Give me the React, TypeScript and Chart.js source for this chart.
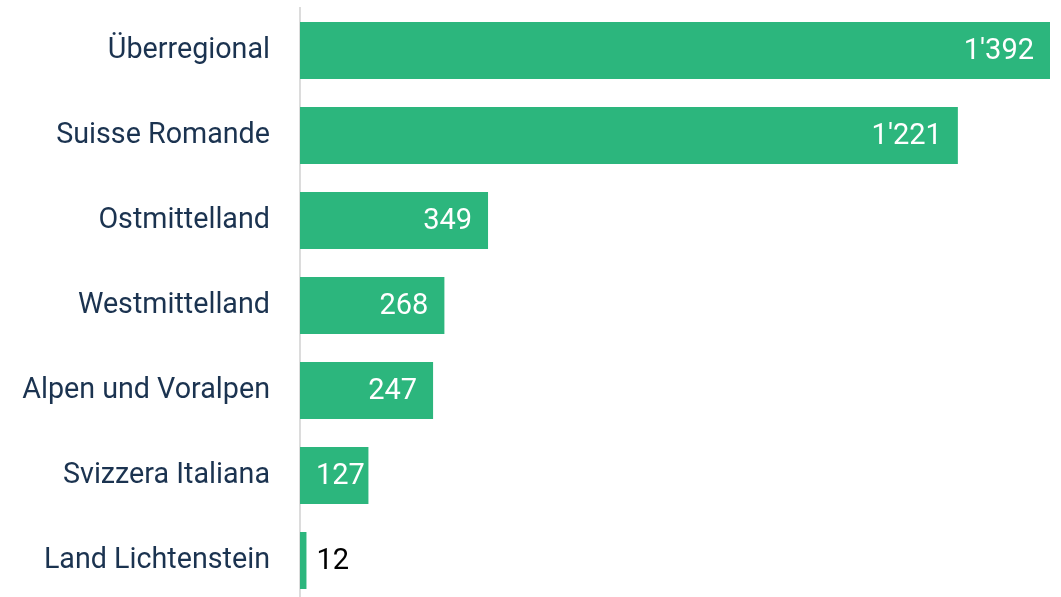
import React, { useEffect, useRef } from "react";
import { Chart, registerables } from "chart.js";

Chart.register(...registerables);

const categories = [
  "Überregional",
  "Suisse Romande",
  "Ostmittelland",
  "Westmittelland",
  "Alpen und Voralpen",
  "Svizzera Italiana",
  "Land Lichtenstein",
];
const values = [1392, 1221, 349, 268, 247, 127, 12];

const BAR_COLOR = "#2cb67d";
const LABEL_COLOR = "#1b3350";
const FONT = "Roboto, 'Liberation Sans', sans-serif";

function fmt(v: number): string {
  return String(v).replace(/\B(?=(\d{3})+(?!\d))/g, "'");
}

const valueLabels = {
  id: "valueLabels",
  afterDatasetsDraw(chart: any) {
    const ctx = chart.ctx;
    const meta = chart.getDatasetMeta(0);
    ctx.save();
    ctx.font = `29px ${FONT}`;
    ctx.textBaseline = "middle";
    ctx.textAlign = "left";
    meta.data.forEach((bar: any, i: number) => {
      const v = values[i];
      const text = fmt(v);
      const w = ctx.measureText(text).width;
      const barW = bar.x - bar.base;
      if (barW > w + 18) {
        ctx.fillStyle = "#ffffff";
        const x = Math.max(bar.x - 16 - w, bar.base + 16);
        ctx.fillText(text, x, bar.y + 1);
      } else {
        ctx.fillStyle = "#000000";
        ctx.fillText(text, bar.x + 10, bar.y + 1);
      }
    });
    ctx.restore();
  },
};

export default function App() {
  const ref = useRef<HTMLCanvasElement | null>(null);
  useEffect(() => {
    if (!ref.current) return;
    const chart = new Chart(ref.current, {
      type: "bar",
      data: {
        labels: categories,
        datasets: [
          {
            data: values,
            backgroundColor: BAR_COLOR,
            barPercentage: 0.67,
            categoryPercentage: 1,
          },
        ],
      },
      options: {
        indexAxis: "y",
        animation: false,
        responsive: false,
        maintainAspectRatio: false,
        layout: { padding: { top: 8, right: 11, bottom: 0, left: 0 } },
        plugins: {
          legend: { display: false },
          tooltip: { enabled: false },
        },
        scales: {
          x: {
            display: false,
            min: 0,
            max: 1392,
          },
          y: {
            afterFit: (scale: any) => {
              scale.width = 300;
              scale.paddingTop = 0;
              scale.paddingBottom = 0;
            },
            grid: { display: false, drawTicks: false },
            border: { display: true, color: "#dcdcdc", width: 2 },
            ticks: {
              padding: 30,
              color: LABEL_COLOR,
              font: { family: FONT, size: 28.7 },
            },
          },
        },
      },
      plugins: [valueLabels],
    });
    return () => chart.destroy();
  }, []);
  return (
    <div style={{ position: "fixed", left: 0, top: 0, width: 1061, height: 603, background: "#fff" }}>
      <canvas ref={ref} width={1061} height={603} style={{ width: 1061, height: 603 }} />
    </div>
  );
}
